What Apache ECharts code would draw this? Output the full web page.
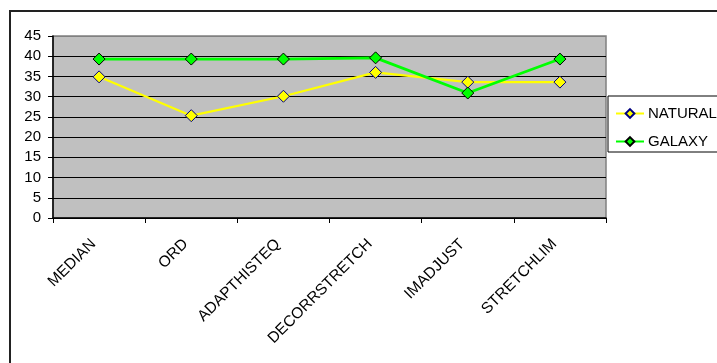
<!DOCTYPE html>
<html>
<head>
<meta charset="utf-8">
<script src="https://cdn.jsdelivr.net/npm/echarts@6/dist/echarts.min.js"></script>
<style>
    html, body { margin: 0; padding: 0; background: #fff; }
    #chart { width: 717px; height: 363px; }
    #frame { position: absolute; left: 9px; top: 10px; width: 720px; height: 370px; border: 2px solid #222; box-sizing: border-box; pointer-events: none; }
</style>
</head>
<body>
<div id="chart"></div>
<div id="frame"></div>
<script>
var categories = ['MEDIAN', 'ORD', 'ADAPTHISTEQ', 'DECORRSTRETCH', 'IMADJUST', 'STRETCHLIM'];
var naturalValues = [34.9, 25.3, 30.1, 36.0, 33.6, 33.6];
var galaxyValues = [39.3, 39.3, 39.3, 39.6, 30.9, 39.3];
var yTicks = [0, 5, 10, 15, 20, 25, 30, 35, 40, 45];

var myChart = echarts.init(document.getElementById('chart'));
var option = {
    animation: false,
    textStyle: {fontFamily: 'Liberation Sans, Arial, sans-serif'},
    grid: {
        left: 53,
        top: 36,
        width: 553,
        height: 182,
        show: true,
        backgroundColor: '#c0c0c0',
        borderColor: '#808080',
        borderWidth: 1.5
    },
    legend: {
        orient: 'vertical',
        left: 608,
        top: 96,
        itemWidth: 28,
        itemHeight: 11,
        itemGap: 13,
        padding: [10, 10, 3, 7],
        borderColor: '#000',
        borderWidth: 1,
        backgroundColor: '#fff',
        textStyle: {fontSize: 15, color: '#000', padding: [0, 0, 0, -1]},
        data: ['NATURAL', 'GALAXY']
    },
    xAxis: {
        type: 'category',
        data: categories,
        boundaryGap: true,
        axisLine: {lineStyle: {color: '#000', width: 1.5}},
        axisTick: {show: true, length: 5, lineStyle: {color: '#000'}},
        axisLabel: {rotate: 45, fontSize: 15.5, color: '#000', margin: 18, interval: 0, padding: [0, 8, 0, 0]}
    },
    yAxis: {
        type: 'value',
        min: 0,
        max: 45,
        interval: 5,
        axisLine: {show: true, lineStyle: {color: '#000', width: 1.5}},
        axisTick: {show: true, length: 5, lineStyle: {color: '#000'}},
        splitLine: {
            show: true,
            lineStyle: {
                color: ['#000', '#000', '#000', '#000', '#000', '#000', '#000', '#000', '#000', '#808080'],
                width: 1.2
            }
        },
        axisLabel: {
            fontSize: 15,
            color: '#000',
            margin: 12,
            formatter: function (v) { return yTicks.indexOf(v) >= 0 ? String(v) : ''; }
        }
    },
    series: [
        {
            name: 'NATURAL',
            type: 'line',
            data: naturalValues,
            symbol: 'diamond',
            symbolSize: 12,
            lineStyle: {color: '#ffff00', width: 2.2},
            itemStyle: {color: '#ffff00', borderColor: '#000080', borderWidth: 1}
        },
        {
            name: 'GALAXY',
            type: 'line',
            data: galaxyValues,
            symbol: 'diamond',
            symbolSize: 12,
            lineStyle: {color: '#00ff00', width: 2.8},
            itemStyle: {color: '#00ff00', borderColor: '#000', borderWidth: 1}
        }
    ]
};
myChart.setOption(option);
</script>
</body>
</html>
